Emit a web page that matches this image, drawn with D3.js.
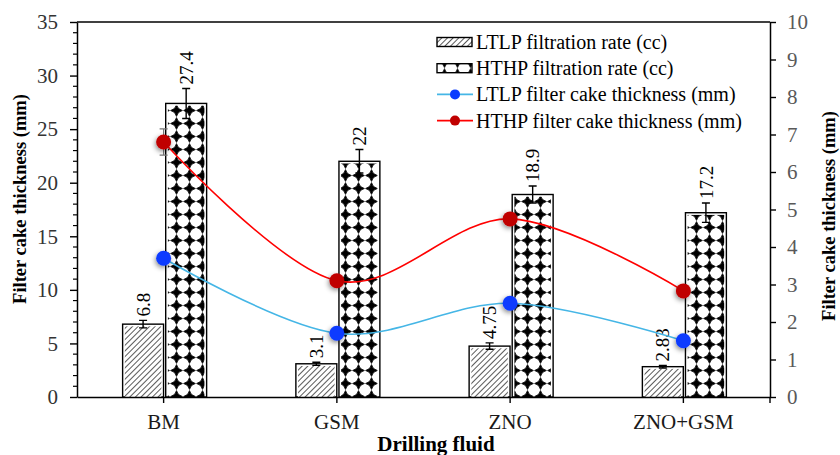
<!DOCTYPE html>
<html>
<head>
<meta charset="utf-8">
<script src="https://cdn.jsdelivr.net/npm/d3@7"></script>
<style>
  body { margin: 0; background: #fff; }
  svg text { font-family: "Liberation Serif", "Times New Roman", serif; }
</style>
</head>
<body>
<div id="chart"></div>
<script>
var svgWidth = 840;
var svgHeight = 455;
var serif = "'Liberation Serif', 'Times New Roman', serif";

// chart data
var fluids = ["BM", "GSM", "ZNO", "ZNO+GSM"];
var ltlpRate = [6.8, 3.1, 4.75, 2.83];
var ltlpRateErr = [0.35, 0.15, 0.3, 0.12];
var hthpRate = [27.4, 22, 18.9, 17.2];
var hthpRateErr = [1.4, 1.1, 0.8, 0.9];
var ltlpCake = [3.7, 1.7, 2.5, 1.5];
var hthpCake = [6.8, 3.1, 4.75, 2.83];
var hthpCakeErr = [0.35, 0, 0, 0];
var leftTicks = [0, 5, 10, 15, 20, 25, 30, 35];
var rightTicks = [0, 1, 2, 3, 4, 5, 6, 7, 8, 9, 10];

var plot = { left: 77, right: 770, top: 22, bottom: 397 };

var svg = d3.select("#chart")
  .append("svg")
  .attr("width", svgWidth)
  .attr("height", svgHeight)
  .attr("font-family", serif);

var defs = svg.append("defs");

// hatch for LTLP bars
var hatch = defs.append("pattern")
  .attr("id", "hatch")
  .attr("patternUnits", "userSpaceOnUse")
  .attr("width", 4)
  .attr("height", 4)
  .attr("patternTransform", "rotate(45)");
hatch.append("rect").attr("width", 4).attr("height", 4).attr("fill", "#fff");
hatch.append("line")
  .attr("x1", 0).attr("y1", 0).attr("x2", 0).attr("y2", 4)
  .attr("stroke", "#000").attr("stroke-width", 1.3);

// diamond pattern for HTHP bars
var diam = defs.append("pattern")
  .attr("id", "diamond")
  .attr("patternUnits", "userSpaceOnUse")
  .attr("width", 13)
  .attr("height", 13)
  .attr("x", 1)
  .attr("y", 0);
diam.append("rect").attr("width", 13).attr("height", 13).attr("fill", "#fff");
diam.append("path")
  .attr("d", "M6.5,0.6 Q7.6,5.4 12.4,6.5 Q7.6,7.6 6.5,12.4 Q5.4,7.6 0.6,6.5 Q5.4,5.4 6.5,0.6Z")
  .attr("fill", "#000")
  .attr("stroke", "#000")
  .attr("stroke-width", 0.8);

var shadow = defs.append("filter")
  .attr("id", "shadow")
  .attr("x", "-100%").attr("y", "-100%")
  .attr("width", "300%").attr("height", "300%");
shadow.append("feDropShadow")
  .attr("dx", -1).attr("dy", 2)
  .attr("stdDeviation", 2.5)
  .attr("flood-color", "#000")
  .attr("flood-opacity", 0.45);

// scales
var xScale = d3.scaleBand()
  .domain(fluids)
  .range([plot.left, plot.right]);

var xSub = d3.scaleBand()
  .domain(["ltlp", "hthp"])
  .range([-41, 43])
  .paddingInner(0.05);

var yLeft = d3.scaleLinear().domain([0, 35]).range([plot.bottom, plot.top]);
var yRight = d3.scaleLinear().domain([0, 10]).range([plot.bottom, plot.top]);

function cx(d) { return xScale(d) + xScale.bandwidth() / 2; }

// top border
svg.append("line")
  .attr("x1", plot.left).attr("x2", plot.right)
  .attr("y1", plot.top).attr("y2", plot.top)
  .attr("stroke", "#000").attr("stroke-width", 1.5);

// bars
var barSeries = [
  { key: "ltlp", values: ltlpRate, err: ltlpRateErr, fill: "url(#hatch)" },
  { key: "hthp", values: hthpRate, err: hthpRateErr, fill: "url(#diamond)" }
];

barSeries.forEach(function(s) {
  var rows = fluids.map(function(f, i) { return { f: f, v: s.values[i], e: s.err[i] }; });
  var g = svg.append("g");
  var bw = xSub.bandwidth();

  g.selectAll("rect.outer")
    .data(rows)
    .enter()
    .append("rect")
    .attr("x", d => cx(d.f) + xSub(s.key))
    .attr("y", d => yLeft(d.v))
    .attr("width", bw)
    .attr("height", d => yLeft(0) - yLeft(d.v))
    .attr("fill", "#fff")
    .attr("stroke", "#000")
    .attr("stroke-width", 1.4);

  g.selectAll("rect.inner")
    .data(rows)
    .enter()
    .append("rect")
    .attr("x", d => cx(d.f) + xSub(s.key) + 2.2)
    .attr("y", d => yLeft(d.v) + 2.2)
    .attr("width", bw - 4.4)
    .attr("height", d => Math.max(0, yLeft(0) - yLeft(d.v) - 2.2))
    .attr("fill", s.fill);

  // error bars
  g.selectAll("path.err")
    .data(rows)
    .enter()
    .append("path")
    .attr("d", function(d) {
      var x = cx(d.f) + xSub(s.key) + bw / 2;
      var y1 = yLeft(d.v + d.e), y2 = yLeft(d.v - d.e);
      return `M${x},${y1}V${y2}M${x - 4},${y1}H${x + 4}M${x - 4},${y2}H${x + 4}`;
    })
    .attr("stroke", "#000")
    .attr("stroke-width", 1.4)
    .attr("fill", "none");

  // value labels
  g.selectAll("text")
    .data(rows)
    .enter()
    .append("text")
    .attr("transform", d => `translate(${cx(d.f) + xSub(s.key) + bw / 2}, ${yLeft(d.v + d.e) - 4}) rotate(-90)`)
    .attr("dy", "0.35em")
    .style("font-size", "19px")
    .attr("fill", "#000")
    .text(d => d.v);
});

// smoothed lines
var lineSeries = [
  { values: ltlpCake, err: null, line: "#45b6e6", dot: "#0b3bff" },
  { values: hthpCake, err: hthpCakeErr, line: "#ff0000", dot: "#c00000" }
];

var lineGen = d3.line()
  .x(d => cx(d.f))
  .y(d => yRight(d.v))
  .curve(d3.curveCatmullRom.alpha(0));

lineSeries.forEach(function(s) {
  var rows = fluids.map(function(f, i) { return { f: f, v: s.values[i], e: s.err ? s.err[i] : 0 }; });
  var g = svg.append("g");

  g.append("path")
    .datum(rows)
    .attr("d", lineGen)
    .attr("fill", "none")
    .attr("stroke", s.line)
    .attr("stroke-width", 1.6);

  g.selectAll("path.err")
    .data(rows.filter(d => d.e > 0))
    .enter()
    .append("path")
    .attr("d", function(d) {
      var x = cx(d.f), y1 = yRight(d.v + d.e), y2 = yRight(d.v - d.e);
      return `M${x},${y1}V${y2}M${x - 4},${y1}H${x + 4}M${x - 4},${y2}H${x + 4}`;
    })
    .attr("stroke", "#777")
    .attr("stroke-width", 1.2)
    .attr("fill", "none");

  g.selectAll("circle")
    .data(rows)
    .enter()
    .append("circle")
    .attr("cx", d => cx(d.f))
    .attr("cy", d => yRight(d.v))
    .attr("r", 7.5)
    .attr("fill", s.dot)
    .attr("filter", "url(#shadow)");
});

// axes
function styleAxis(g, color) {
  g.attr("font-family", serif).attr("font-size", 21);
  g.select(".domain").attr("stroke-width", 1.5);
  g.selectAll(".tick line").attr("stroke-width", 1.4);
  g.selectAll("text")
    .style("font-family", serif)
    .style("font-size", "21px")
    .attr("fill", color);
}

var bottomAxis = d3.axisBottom(xScale).tickSize(6).tickSizeOuter(0).tickPadding(11);
var xAxis = svg.append("g")
  .attr("transform", `translate(0, ${plot.bottom})`)
  .call(bottomAxis);
styleAxis(xAxis, "#1a1a1a");

var leftAxis = d3.axisLeft(yLeft).tickValues(leftTicks).tickSize(7).tickSizeOuter(0).tickPadding(12);
var yAxisL = svg.append("g")
  .attr("transform", `translate(${plot.left}, 0)`)
  .call(leftAxis);
styleAxis(yAxisL, "#333");

// minor ticks on left axis
svg.append("g")
  .selectAll("line")
  .data(d3.range(0, 36).filter(v => v % 5 !== 0))
  .enter()
  .append("line")
  .attr("x1", plot.left - 4)
  .attr("x2", plot.left)
  .attr("y1", d => yLeft(d))
  .attr("y2", d => yLeft(d))
  .attr("stroke", "#000")
  .attr("stroke-width", 1.2);

var rightAxis = d3.axisRight(yRight).tickValues(rightTicks).tickSize(6).tickSizeOuter(0).tickPadding(11);
var yAxisR = svg.append("g")
  .attr("transform", `translate(${plot.right}, 0)`)
  .call(rightAxis);
styleAxis(yAxisR, "#595959");

// right axis downward tick at origin
svg.append("line")
  .attr("x1", plot.right).attr("x2", plot.right)
  .attr("y1", plot.bottom).attr("y2", plot.bottom + 6)
  .attr("stroke", "#000").attr("stroke-width", 1.4);

// axis titles
svg.append("text")
  .attr("transform", "translate(20, 199) rotate(-90)")
  .attr("text-anchor", "middle")
  .attr("dy", "0.35em")
  .style("font-size", "18.5px")
  .style("font-weight", "bold")
  .text("Filter cake thickness (mm)");

svg.append("text")
  .attr("transform", "translate(829, 216) rotate(-90)")
  .attr("text-anchor", "middle")
  .attr("dy", "0.35em")
  .style("font-size", "18.5px")
  .style("font-weight", "bold")
  .text("Filter cake thickness (mm)");

svg.append("text")
  .attr("x", 436)
  .attr("y", 451)
  .attr("text-anchor", "middle")
  .style("font-size", "21px")
  .style("font-weight", "bold")
  .text("Drilling fluid");

// legend
var legendItems = [
  { label: "LTLP filtration rate (cc)", type: "bar", fill: "url(#hatch)" },
  { label: "HTHP filtration rate (cc)", type: "bar", fill: "url(#diamond)" },
  { label: "LTLP filter cake thickness (mm)", type: "line", line: "#45b6e6", dot: "#0b3bff" },
  { label: "HTHP filter cake thickness (mm)", type: "line", line: "#ff0000", dot: "#c00000" }
];

var legend = svg.append("g").attr("transform", "translate(437, 42)");
legendItems.forEach(function(item, i) {
  var row = legend.append("g").attr("transform", `translate(0, ${i * 26.2})`);
  if (item.type === "bar") {
    row.append("rect")
      .attr("x", 0).attr("y", -4.5)
      .attr("width", 35).attr("height", 9)
      .attr("fill", item.fill)
      .attr("stroke", "#000")
      .attr("stroke-width", 1.4);
  } else {
    row.append("line")
      .attr("x1", 0).attr("x2", 36)
      .attr("y1", 0).attr("y2", 0)
      .attr("stroke", item.line)
      .attr("stroke-width", 1.6);
    row.append("circle")
      .attr("cx", 18).attr("cy", 0).attr("r", 5)
      .attr("fill", item.dot);
  }
  row.append("text")
    .attr("x", 39)
    .attr("y", 0)
    .attr("dy", "0.35em")
    .style("font-size", "20px")
    .attr("fill", "#000")
    .text(item.label);
});
</script>
</body>
</html>
